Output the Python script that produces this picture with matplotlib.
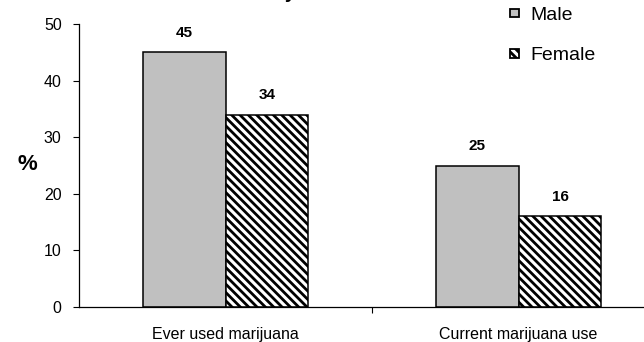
import matplotlib
matplotlib.use("Agg")
import matplotlib.pyplot as plt
import numpy as np

plt.rcParams['font.family'] = ['Liberation Sans', 'DejaVu Sans']
plt.rcParams['hatch.linewidth'] = 2.0

categories = ["Ever used marijuana", "Current marijuana use"]
series_names = ["Male", "Female"]
male = [45, 25]
female = [34, 16]
yticks = [0, 10, 20, 30, 40, 50]

W, H = 644, 342
fig = plt.figure(figsize=(W/100, H/100), dpi=100)
ax = fig.add_axes([79/W, 35/H, (665-79)/W, (307-24)/H])

x = np.arange(len(categories))
w = 0.283
b1 = ax.bar(x - w/2, male, width=w, color="#C0C0C0", edgecolor="black", linewidth=1.1,
            label=series_names[0])
b2 = ax.bar(x + w/2, female, width=w, color="white", edgecolor="black", linewidth=1.1,
            hatch="\\\\\\\\", label=series_names[1])

for rect, v in list(zip(b1, male)) + list(zip(b2, female)):
    ax.annotate(f"{v}", (rect.get_x() + rect.get_width()/2, v), xytext=(0, 9),
                textcoords="offset points", ha="center", va="bottom",
                fontsize=11, fontweight="bold")

ax.set_xlim(-0.5, 1.5)
ax.set_ylim(0, 50)
ax.set_yticks(yticks)
ax.set_yticklabels([str(t) for t in yticks], fontsize=11.5)
ax.set_xticks([0.5])
ax.set_xticklabels([""])
ax.tick_params(axis='x', length=4, direction='out', width=0.8)
ax.tick_params(axis='y', length=4.5, direction='out', pad=8, width=0.8)
for t, lab in zip(x, categories):
    ax.annotate(lab, (t, 0), xycoords=("data", "axes fraction"), xytext=(0, -(339-307)*0.72),
                textcoords="offset points", ha="center", va="baseline", fontsize=11.5)

ax.spines['top'].set_visible(False)
ax.spines['right'].set_visible(False)
ax.spines['left'].set_linewidth(0.9)
ax.spines['bottom'].set_linewidth(0.9)

fig.text(27/W, 1 - 165/H, "%", ha="center", va="center", fontsize=16, fontweight="bold")

fig.text(273/W, 1 + 2/H, "by Sex", ha="left", va="baseline",
         fontsize=14, fontweight="bold")

leg = fig.legend(handles=[b1, b2], labels=series_names, loc="upper left",
                 bbox_to_anchor=(510/W, 1 - 7/H), frameon=False, fontsize=14,
                 handlelength=0.45, handleheight=0.3, handletextpad=0.58,
                 labelspacing=1.2, borderaxespad=0, borderpad=0)
for p in leg.get_patches():
    p.set_linewidth(1.3)

fig.savefig("out.png", dpi=100)
